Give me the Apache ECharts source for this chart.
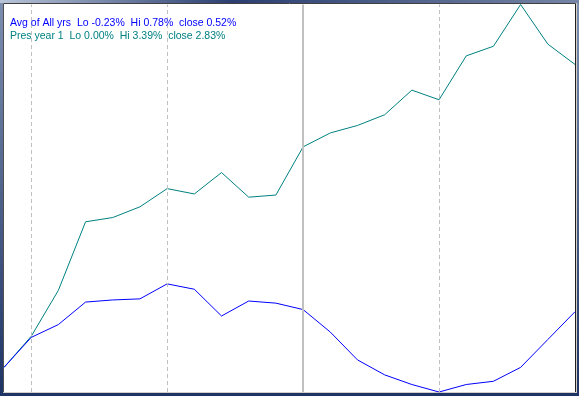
<!DOCTYPE html>
<html>
<head>
<meta charset="utf-8">
<script src="https://cdn.jsdelivr.net/npm/echarts@6/dist/echarts.min.js"></script>
<style>
html,body{margin:0;padding:0;background:#7d8fb0;}
#c{width:579px;height:396px;}
</style>
</head>
<body>
<div id="c"></div>
<script>
var categories = ['1','2','3','4','5','6','7','8','9','10','11','12','13','14','15','16','17','18','19','20','21','22'];
var avgAllYrs = [0.00,0.28,0.40,0.61,0.63,0.64,0.78,0.73,0.48,0.62,0.60,0.54,0.33,0.07,-0.07,-0.16,-0.23,-0.16,-0.13,0.00,0.26,0.52];
var presYear1 = [0.00,0.29,0.72,1.36,1.40,1.50,1.67,1.62,1.82,1.59,1.61,2.06,2.19,2.26,2.36,2.59,2.50,2.91,3.00,3.39,3.02,2.83];
var seriesNames = ['Avg of All yrs','Pres year 1'];
var legendTexts = ['Avg of All yrs  Lo -0.23%  Hi 0.78%  close 0.52%','Pres year 1  Lo 0.00%  Hi 3.39%  close 2.83%'];
var dashedMarks = ['2','7','17'];
var solidMarks = ['12'];

var chart = echarts.init(document.getElementById('c'), null, {renderer:'canvas'});
var markData = dashedMarks.map(function(c){return {xAxis:c, lineStyle:{type:[4,3],color:'#c0c0c0',width:1}};})
  .concat(solidMarks.map(function(c){return {xAxis:c, lineStyle:{type:'solid',color:'#c0c0c0',width:2}};}));

chart.setOption({
  animation:false,
  backgroundColor:'transparent',
  graphic:[
    {type:'rect',z:-10,shape:{x:0,y:0,width:579,height:396},style:{fill:new echarts.graphic.LinearGradient(0,0,0,1,[{offset:0,color:'#7d8fb0'},{offset:1,color:'#1e3466'}])}},
    {type:'rect',z:-10,shape:{x:0,y:0,width:579,height:3},style:{fill:new echarts.graphic.LinearGradient(0,0,1,0,[{offset:0,color:'#b8c4d8'},{offset:0.4,color:'#2a3f70'},{offset:1,color:'#7585a5'}])}},
    {type:'rect',z:-10,shape:{x:0,y:393,width:579,height:3},style:{fill:'#1e3466'}},
    {type:'rect',z:-9,shape:{x:3,y:3,width:573,height:390},style:{fill:'#ffffff',stroke:null}},
    {type:'line',z:-8,shape:{x1:3.5,y1:3.5,x2:575.5,y2:3.5},style:{stroke:'#404040',lineWidth:1}},
    {type:'line',z:-8,shape:{x1:3.5,y1:3.5,x2:3.5,y2:392.5},style:{stroke:'#505050',lineWidth:1}},
    {type:'line',z:-8,shape:{x1:575.5,y1:3.5,x2:575.5,y2:392.5},style:{stroke:'#202020',lineWidth:1}},
    {type:'line',z:-8,shape:{x1:3.5,y1:392.5,x2:576.5,y2:392.5},style:{stroke:'#d4d0c8',lineWidth:1}},
    {type:'line',z:-8,shape:{x1:576.5,y1:3,x2:576.5,y2:393},style:{stroke:'#d4d0c8',lineWidth:1}},
    {type:'text',z:20,left:10,top:17.5,style:{text:legendTexts[0],fill:'#0000ff',font:'10.5px "Liberation Sans", Arial, sans-serif'}},
    {type:'text',z:20,left:10,top:30.5,style:{text:legendTexts[1],fill:'#008080',font:'10.5px "Liberation Sans", Arial, sans-serif'}}
  ],
  grid:{left:4,right:4,top:4.5,bottom:4,containLabel:false},
  xAxis:{type:'category',data:categories,boundaryGap:false,show:false},
  yAxis:{type:'value',min:-0.23,max:3.39,show:false,splitLine:{show:false}},
  series:[
    {type:'line',name:'marks',data:[],z:1,silent:true,
      markLine:{silent:true,symbol:['none','none'],label:{show:false},data:markData}},
    {type:'line',name:seriesNames[0],data:avgAllYrs,z:3,symbol:'none',lineStyle:{color:'#0000ff',width:1}},
    {type:'line',name:seriesNames[1],data:presYear1,z:2,symbol:'none',lineStyle:{color:'#008080',width:1}}
  ]
});
</script>
</body>
</html>
